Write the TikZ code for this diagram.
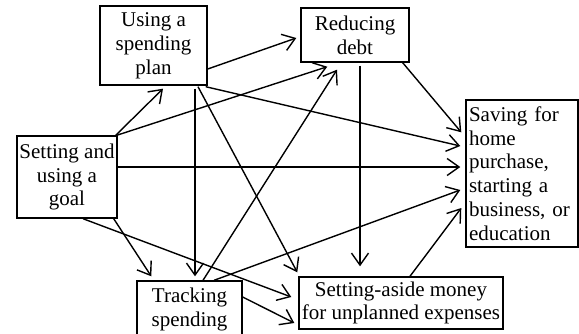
\documentclass[tikz,border=0pt]{standalone}
\usepackage{fontspec}
\setmainfont{Liberation Serif}
\usetikzlibrary{arrows.meta,calc}
\begin{document}
\begin{tikzpicture}[x=1pt,y=-1pt,
  box/.style={draw,line width=1.4pt,inner sep=0pt,align=center,
    font=\fontsize{21}{23.8}\selectfont},
  conn/.style={line width=1.4pt,-{Straight Barb[length=12pt,width=17pt,line width=1.4pt]}}]
\useasboundingbox (0,0) rectangle (579,333);
\node[box,minimum width=107,minimum height=79] (plan) at (153.5,45.5) {Using a\\spending\\plan};
\node[box,minimum width=108,minimum height=54] (debt) at (355,35) {Reducing\\debt};
\node[box,minimum width=100,minimum height=82] (goal) at (67,177) {Setting and\\using a\\goal};
\node[box,minimum width=112,minimum height=147,align=left,text width=106,inner xsep=3pt] (saving) at (522,173.5) {Saving for\\home\\purchase,\\starting a\\business, or\\education};
\node[box,minimum width=105,minimum height=56.4] (track) at (189.5,309.2) {Tracking\\spending};
\node[box,minimum width=204,minimum height=52] (aside) at (401,303) {Setting-aside money\\for unplanned expenses};
% connectors
\draw[conn] ($(goal.north east)+(-2,0)$) -- ($(plan.south)+(9.5,3)$);
\draw[conn] ($(goal.north east)+(-1,0)$) -- ($(debt.south west)+(27,4)$);
\draw[conn] ($(plan.east)+(0,23.5)$) -- ($(debt.west)+(-4,3)$);
\draw[conn] ($(plan.south east)+(-2,1)$) -- ($(saving.west)+(-5,-27.5)$);
\draw[conn] ($(goal.east)+(0,-10)$) -- ($(saving.west)+(-5,-6.5)$);
\draw[conn] ($(debt.south east)+(-7,0)$) -- ($(saving.north west)+(-4,33)$);
\draw[conn] ($(debt.south)+(5,3)$) -- ($(aside.north)+(-41,-10)$);
\draw[conn] ($(plan.south)+(41.5,3)$) -- ($(track.north)+(5.5,-4)$);
\draw[conn] ($(plan.south)+(44.5,1)$) -- ($(aside.north west)+(-1,-4)$);
\draw[conn] ($(track.north)+(13.5,0)$) -- ($(debt.south)+(-18,7)$);
\draw[conn] ($(track.north)+(24.5,0)$) -- ($(saving.west)+(-5,16.5)$);
\draw[conn] ($(goal.south)+(16,0)$) -- ($(aside.west)+(-7,-6)$);
\draw[conn] ($(goal.south east)+(-4,0)$) -- ($(track.north west)+(15,-4)$);
\draw[conn] ($(track.east)+(0,-12.2)$) -- ($(aside.west)+(-4,20)$);
\draw[conn] ($(aside.north)+(9,0)$) -- ($(saving.west)+(-4,34.5)$);
\end{tikzpicture}
\end{document}
